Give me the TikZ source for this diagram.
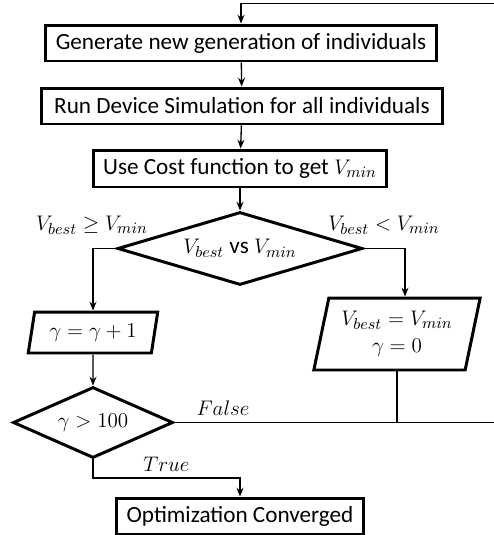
\documentclass[tikz,border=0pt]{standalone}
\usepackage{fontspec}
\setmainfont{Carlito}
\usetikzlibrary{shapes.geometric,arrows.meta}

\begin{document}
\begin{tikzpicture}[x=0.02cm,y=-0.02cm,font=\fontsize{13.2}{15.5}\selectfont,
    box/.style={draw,line width=1.7pt,inner sep=0pt},
    para/.style={draw,line width=1.7pt,inner sep=0pt,trapezium,trapezium left angle=75,
      trapezium right angle=105,trapezium stretches=true},
    test/.style={draw,line width=1.7pt,inner sep=0pt,diamond},
    flow/.style={line width=0.75pt},
    go/.style={flow,-{Stealth[length=5pt,width=4pt]}}]
      \useasboundingbox (0,0) rectangle (494,535);
      \node[box,minimum width=7.84cm,minimum height=0.72cm] (gen) at (241,43) {Generate new generation of individuals};
      \node[box,minimum width=8.04cm,minimum height=0.72cm] (sim) at (242,106) {Run Device Simulation for all individuals};
      \node[box,minimum width=5.86cm,minimum height=0.74cm] (cost) at (240,168.5) {Use Cost function to get $V_{min}$};
      \node[test,shape aspect=3.35,minimum width=4.9cm,minimum height=1.46cm] (cmp) at (240,248.5) {$V_{best}$ vs $V_{min}$};
      \node[para,minimum width=2.6cm,minimum height=0.82cm] (inc) at (93,332.5) {$\gamma=\gamma+1$};
      \node[para,minimum width=3.34cm,minimum height=1.44cm,align=center] (upd) at (397,334) {$V_{best}=V_{min}$\\$\gamma=0$};
      \node[test,shape aspect=2.25,minimum width=3.2cm,minimum height=1.42cm] (stop) at (93,422.5) {$\gamma>100$};
      \node[box,minimum width=4.94cm,minimum height=0.72cm] (done) at (240,516) {Optimization Converged};
      \node (ge) at (92,225) {$V_{best}\geq V_{min}$};
      \node (lt) at (384,225) {$V_{best}<V_{min}$};
      \coordinate (rb) at (498,422.5);
      \coordinate (rt) at (498,3.5);
      \coordinate (bend) at (240,478);
      \draw[go] (gen) -- (sim);
      \draw[go] (sim) -- (cost);
      \draw[go] (cost) -- (cmp);
      \draw[go] (cmp.west) -| (inc.north);
      \draw[go] (cmp.east) -| ([xshift=0.16cm]upd.north);
      \draw[go] (inc) -- (stop);
      \draw[flow] (upd.south -| upd.center) -- (upd.center |- rb);
      \draw[go] (stop.east) -- node[above,pos=0.15] {$False$} (rb) -- (rt) -| (gen.north);
      \draw[go] (stop.south) |- node[above,pos=0.75] {$True$} (bend) -- (done.north);
    \end{tikzpicture}
\end{document}
